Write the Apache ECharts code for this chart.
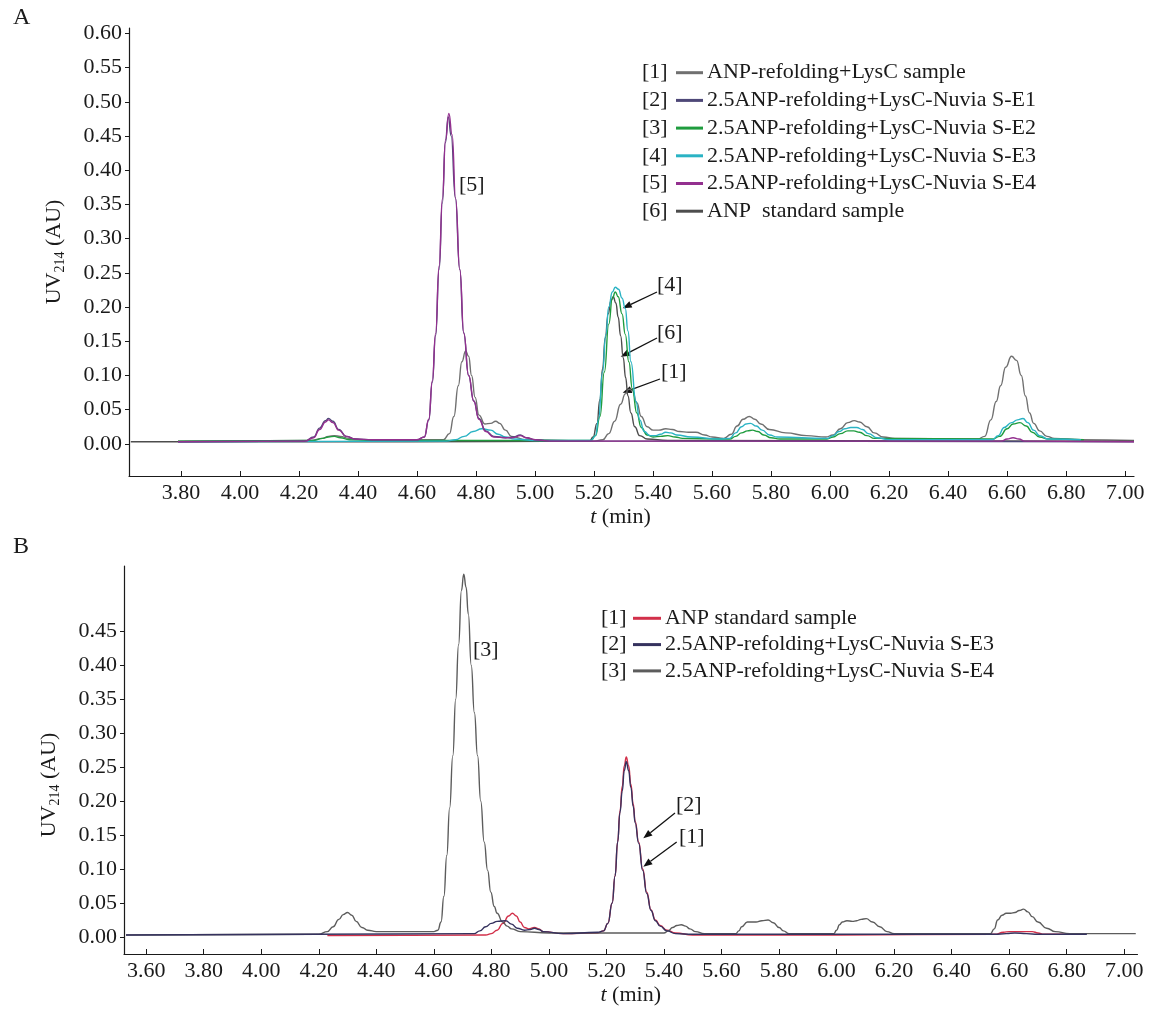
<!DOCTYPE html>
<html>
<head>
<meta charset="utf-8">
<script src="https://cdn.jsdelivr.net/npm/echarts@6/dist/echarts.min.js"></script>
<style>
html, body { margin: 0; padding: 0; background: #fff; }
#main { width: 1149px; height: 1009px; }
</style>
</head>
<body>
<div id="main"></div>
<script>
const font = "'Liberation Serif', 'Times New Roman', serif";

// tick labels
const ticksAx = [3.80, 4.00, 4.20, 4.40, 4.60, 4.80, 5.00, 5.20, 5.40, 5.60, 5.80, 6.00, 6.20, 6.40, 6.60, 6.80, 7.00];
const ticksAy = [0.00, 0.05, 0.10, 0.15, 0.20, 0.25, 0.30, 0.35, 0.40, 0.45, 0.50, 0.55, 0.60];
const ticksBx = [3.60, 3.80, 4.00, 4.20, 4.40, 4.60, 4.80, 5.00, 5.20, 5.40, 5.60, 5.80, 6.00, 6.20, 6.40, 6.60, 6.80, 7.00];
const ticksBy = [0.00, 0.05, 0.10, 0.15, 0.20, 0.25, 0.30, 0.35, 0.40, 0.45];

// panel A legend
const namesA = ['ANP-refolding+LysC sample', '2.5ANP-refolding+LysC-Nuvia S-E1', '2.5ANP-refolding+LysC-Nuvia S-E2',
    '2.5ANP-refolding+LysC-Nuvia S-E3', '2.5ANP-refolding+LysC-Nuvia S-E4', 'ANP  standard sample'];
const colorsA = ['#707070', '#4e4878', '#1f9c3e', '#2ab3c4', '#93308f', '#4d4d4d'];
// panel B legend
const namesB = ['ANP standard sample', '2.5ANP-refolding+LysC-Nuvia S-E3', '2.5ANP-refolding+LysC-Nuvia S-E4'];
const colorsB = ['#d2304a', '#35325e', '#5c5c5c'];

// [t (min), UV (AU)]
const a1 = [[3.79,0.004],[4.24,0.005],[4.28,0.008],[4.30,0.011],[4.32,0.012],[4.34,0.011],[4.37,0.008],[4.42,0.006],
    [4.69,0.006],[4.71,0.015],[4.725,0.04],[4.74,0.085],[4.752,0.12],[4.765,0.136],[4.775,0.128],[4.785,0.1],[4.797,0.068],
    [4.81,0.042],[4.83,0.029],[4.85,0.03],[4.867,0.033],[4.88,0.03],[4.90,0.02],[4.92,0.011],[4.97,0.006],
    [5.20,0.004],[5.23,0.006],[5.25,0.015],[5.27,0.033],[5.29,0.058],[5.306,0.073],[5.318,0.08],[5.33,0.078],[5.345,0.06],
    [5.36,0.04],[5.38,0.025],[5.40,0.02],[5.42,0.02],[5.443,0.022],[5.465,0.021],[5.49,0.018],[5.52,0.017],[5.545,0.017],
    [5.575,0.013],[5.60,0.01],[5.64,0.008],[5.665,0.014],[5.685,0.026],[5.705,0.036],[5.726,0.04],[5.745,0.036],[5.765,0.029],
    [5.794,0.021],[5.85,0.016],[5.92,0.012],[5.986,0.01],[6.01,0.013],[6.035,0.022],[6.06,0.031],[6.082,0.034],[6.10,0.032],
    [6.125,0.025],[6.15,0.016],[6.18,0.01],[6.22,0.008],[6.50,0.007],[6.524,0.011],[6.545,0.035],[6.563,0.062],[6.578,0.085],
    [6.595,0.112],[6.615,0.128],[6.632,0.122],[6.648,0.1],[6.662,0.07],[6.676,0.045],[6.69,0.03],[6.71,0.019],[6.735,0.011],
    [6.76,0.008],[6.85,0.006],[7.03,0.005]];
const a2 = [[3.79,0.003],[4.22,0.004],[4.25,0.01],[4.27,0.023],[4.29,0.034],[4.30,0.037],[4.315,0.033],[4.335,0.021],
    [4.36,0.011],[4.39,0.007],[4.45,0.006],[4.60,0.006],[4.625,0.01],[4.64,0.035],[4.652,0.09],[4.663,0.158],[4.675,0.255],
    [4.686,0.352],[4.696,0.44],[4.706,0.478],[4.716,0.45],[4.73,0.36],[4.745,0.255],[4.758,0.163],[4.775,0.1],[4.792,0.063],
    [4.81,0.037],[4.833,0.019],[4.86,0.011],[4.90,0.009],[4.925,0.01],[4.95,0.013],[4.97,0.009],[5.00,0.006],[5.05,0.004],
    [5.60,0.004],[7.03,0.003]];
const a3 = [[3.79,0.004],[4.25,0.005],[4.28,0.008],[4.30,0.01],[4.32,0.011],[4.34,0.009],[4.37,0.006],[4.45,0.005],
    [5.19,0.005],[5.205,0.012],[5.22,0.04],[5.235,0.105],[5.25,0.175],[5.262,0.212],[5.272,0.222],[5.282,0.215],[5.295,0.19],
    [5.306,0.16],[5.318,0.12],[5.33,0.08],[5.345,0.045],[5.36,0.024],[5.38,0.013],[5.40,0.01],[5.425,0.011],[5.45,0.012],
    [5.475,0.01],[5.50,0.008],[5.66,0.007],[5.68,0.011],[5.70,0.016],[5.72,0.019],[5.737,0.02],[5.755,0.018],[5.775,0.013],
    [5.80,0.009],[5.83,0.007],[5.99,0.007],[6.01,0.01],[6.035,0.015],[6.06,0.019],[6.08,0.019],[6.10,0.017],[6.125,0.012],
    [6.15,0.008],[6.55,0.007],[6.575,0.011],[6.60,0.022],[6.62,0.029],[6.643,0.031],[6.665,0.026],[6.685,0.017],[6.71,0.01],
    [6.74,0.007],[6.86,0.006]];
const a4 = [[3.79,0.003],[4.70,0.004],[4.73,0.006],[4.76,0.011],[4.79,0.018],[4.82,0.022],[4.85,0.02],[4.875,0.014],
    [4.90,0.01],[4.93,0.007],[5.00,0.005],[5.19,0.005],[5.205,0.012],[5.215,0.035],[5.229,0.105],[5.24,0.16],[5.25,0.2],
    [5.262,0.222],[5.272,0.229],[5.283,0.226],[5.295,0.213],[5.306,0.198],[5.315,0.165],[5.325,0.12],[5.342,0.062],
    [5.355,0.035],[5.37,0.018],[5.39,0.012],[5.41,0.012],[5.425,0.014],[5.443,0.017],[5.46,0.016],[5.48,0.013],[5.53,0.01],
    [5.62,0.007],[5.66,0.008],[5.68,0.016],[5.70,0.025],[5.715,0.029],[5.73,0.03],[5.75,0.026],[5.77,0.02],[5.795,0.013],
    [5.82,0.01],[5.99,0.008],[6.01,0.012],[6.03,0.018],[6.05,0.022],[6.07,0.024],[6.09,0.024],[6.11,0.021],[6.13,0.015],
    [6.16,0.009],[6.20,0.006],[6.55,0.006],[6.57,0.012],[6.59,0.024],[6.615,0.031],[6.635,0.035],[6.654,0.037],[6.67,0.031],
    [6.69,0.02],[6.71,0.012],[6.74,0.007],[6.85,0.006]];
const a5 = [[3.79,0.003],[4.22,0.004],[4.25,0.009],[4.27,0.021],[4.29,0.032],[4.30,0.035],[4.315,0.031],[4.335,0.02],
    [4.36,0.011],[4.39,0.007],[4.45,0.006],[4.60,0.006],[4.625,0.01],[4.64,0.036],[4.652,0.092],[4.663,0.161],[4.675,0.26],
    [4.686,0.358],[4.697,0.445],[4.708,0.483],[4.719,0.452],[4.731,0.358],[4.745,0.255],[4.759,0.161],[4.775,0.1],
    [4.793,0.062],[4.81,0.036],[4.833,0.018],[4.86,0.01],[4.90,0.009],[4.925,0.009],[4.95,0.012],[4.97,0.009],[5.00,0.006],
    [5.05,0.004],[6.58,0.004],[6.60,0.007],[6.62,0.009],[6.64,0.007],[6.66,0.004],[7.03,0.003]];
const a6 = [[3.63,0.003],[4.57,0.003],[5.185,0.004],[5.197,0.01],[5.21,0.03],[5.22,0.065],[5.229,0.11],[5.238,0.155],
    [5.248,0.19],[5.257,0.209],[5.265,0.215],[5.274,0.206],[5.282,0.185],[5.29,0.158],[5.299,0.126],[5.307,0.097],
    [5.315,0.07],[5.325,0.045],[5.338,0.025],[5.355,0.012],[5.38,0.007],[5.45,0.005],[7.03,0.004]];

const b1 = [[4.23,0.002],[4.78,0.003],[4.80,0.005],[4.82,0.01],[4.84,0.02],[4.86,0.031],[4.873,0.035],[4.887,0.031],
    [4.90,0.022],[4.915,0.014],[4.93,0.012],[4.95,0.014],[4.965,0.012],[4.98,0.008],[5.05,0.005],[5.17,0.006],[5.19,0.009],
    [5.205,0.02],[5.22,0.05],[5.23,0.09],[5.239,0.14],[5.247,0.185],[5.255,0.222],[5.262,0.252],[5.269,0.265],
    [5.277,0.252],[5.285,0.225],[5.293,0.196],[5.30,0.17],[5.312,0.14],[5.326,0.1],[5.34,0.066],[5.355,0.04],[5.37,0.025],
    [5.387,0.017],[5.41,0.01],[5.44,0.006],[5.50,0.003],[6.00,0.003],[6.55,0.004],[6.58,0.007],[6.60,0.008],[6.68,0.008],
    [6.70,0.006],[6.72,0.004],[6.85,0.004]];
const b2 = [[3.53,0.003],[4.17,0.004],[4.74,0.005],[4.76,0.009],[4.78,0.015],[4.80,0.02],[4.82,0.023],[4.85,0.024],
    [4.87,0.019],[4.89,0.013],[4.915,0.01],[4.935,0.011],[4.95,0.013],[4.965,0.011],[4.98,0.008],[5.05,0.005],[5.17,0.007],
    [5.19,0.009],[5.205,0.02],[5.22,0.05],[5.23,0.09],[5.239,0.14],[5.247,0.183],[5.255,0.215],[5.262,0.245],[5.269,0.258],
    [5.277,0.245],[5.285,0.22],[5.293,0.192],[5.30,0.168],[5.312,0.138],[5.326,0.098],[5.34,0.064],[5.355,0.039],
    [5.37,0.024],[5.387,0.016],[5.41,0.009],[5.44,0.005],[5.50,0.004],[6.55,0.004],[6.59,0.005],[6.62,0.006],[6.66,0.005],
    [6.70,0.004],[6.87,0.004]];
const b3 = [[3.53,0.003],[4.20,0.004],[4.23,0.008],[4.25,0.015],[4.27,0.026],[4.285,0.033],[4.30,0.036],[4.315,0.032],
    [4.33,0.023],[4.35,0.014],[4.37,0.01],[4.40,0.008],[4.45,0.008],[4.60,0.008],[4.614,0.01],[4.625,0.022],[4.635,0.06],
    [4.645,0.12],[4.655,0.19],[4.666,0.267],[4.676,0.35],[4.686,0.43],[4.696,0.51],[4.704,0.534],[4.712,0.515],[4.72,0.475],
    [4.73,0.40],[4.741,0.33],[4.752,0.267],[4.763,0.2],[4.775,0.14],[4.787,0.098],[4.798,0.066],[4.81,0.045],[4.82,0.035],
    [4.839,0.022],[4.855,0.016],[4.87,0.012],[4.90,0.008],[5.00,0.006],[5.40,0.006],[5.415,0.009],[5.43,0.014],[5.445,0.017],
    [5.46,0.018],[5.475,0.016],[5.49,0.012],[5.51,0.008],[5.54,0.005],[5.65,0.005],[5.66,0.009],[5.67,0.015],[5.69,0.022],
    [5.705,0.022],[5.72,0.022],[5.74,0.024],[5.762,0.025],[5.78,0.021],[5.80,0.014],[5.815,0.009],[5.835,0.005],[5.99,0.005],
    [6.0,0.01],[6.01,0.018],[6.02,0.022],[6.036,0.024],[6.055,0.023],[6.07,0.024],[6.085,0.026],[6.103,0.027],[6.125,0.022],
    [6.15,0.015],[6.175,0.008],[6.20,0.005],[6.535,0.005],[6.548,0.012],[6.56,0.025],[6.575,0.032],[6.59,0.035],[6.605,0.035],
    [6.62,0.036],[6.635,0.039],[6.65,0.041],[6.665,0.037],[6.68,0.03],[6.70,0.022],[6.73,0.013],[6.76,0.008],[6.81,0.005],
    [7.04,0.005]];

const seriesA = [a1, a2, a3, a4, a5, a6];
const seriesB = [b1, b2, b3];
const drawOrderA = [0, 5, 2, 3, 1, 4];
const drawOrderB = [0, 2, 1];

function lineSeries(id, data, color, idx, z) {
    return {
        id: id, name: id, type: 'line', data: data,
        xAxisIndex: idx, yAxisIndex: idx,
        showSymbol: false, smooth: 0.5, smoothMonotone: 'x',
        color: color, lineStyle: { width: 1.4, color: color },
        z: z, animation: false, silent: true
    };
}

function xAx(idx, min, max, ticks, nameShift) {
    return {
        gridIndex: idx, type: 'value', min: min, max: max,
        axisLine: { onZero: false, lineStyle: { color: '#1a1a1a', width: 1.2 } },
        axisTick: { inside: true, length: 5, customValues: ticks, lineStyle: { color: '#1a1a1a' } },
        axisLabel: { customValues: ticks, margin: 6, color: '#1a1a1a', fontFamily: font, fontSize: 22,
            formatter: v => v.toFixed(2) },
        splitLine: { show: false },
        name: '{it|t} (min)', nameLocation: 'middle', nameGap: 30,
        nameTextStyle: { color: '#1a1a1a', fontFamily: font, fontSize: 22, padding: nameShift,
            rich: { it: { fontStyle: 'italic', fontFamily: font, fontSize: 22 } } }
    };
}

function yAx(idx, min, max, ticks, pad) {
    return {
        gridIndex: idx, type: 'value', min: min, max: max,
        axisLine: { show: true, onZero: false, lineStyle: { color: '#1a1a1a', width: 1.2 } },
        axisTick: { show: true, length: 4, customValues: ticks, lineStyle: { color: '#1a1a1a' } },
        axisLabel: { customValues: ticks, margin: 7, color: '#1a1a1a', fontFamily: font, fontSize: 22,
            formatter: v => v.toFixed(2) },
        splitLine: { show: false },
        name: 'UV{sub|214} (AU)', nameLocation: 'middle', nameGap: 62,
        nameTextStyle: { color: '#1a1a1a', fontFamily: font, fontSize: 22, lineHeight: 26, padding: pad,
            rich: { sub: { fontFamily: font, fontSize: 14, lineHeight: 14, verticalAlign: 'bottom' } } }
    };
}

function arrow(x1, y1, x2, y2) {
    const ang = Math.atan2(y2 - y1, x2 - x1);
    const L = 9, W = 3.5;
    const bx = x2 - L * Math.cos(ang), by = y2 - L * Math.sin(ang);
    const px = -Math.sin(ang) * W, py = Math.cos(ang) * W;
    return [
        { type: 'line', shape: { x1: x1, y1: y1, x2: bx, y2: by }, style: { stroke: '#111', lineWidth: 1.3 } },
        { type: 'polygon', shape: { points: [[x2, y2], [bx + px, by + py], [bx - px, by - py]] }, style: { fill: '#111' } }
    ];
}

function txt(x, y, s, size, align) {
    return { type: 'text', x: x, y: y,
        style: { text: s, font: (size || 22) + 'px ' + font, fill: '#1a1a1a', align: align || 'left', verticalAlign: 'middle' } };
}

const rowsA = [72.7, 100.4, 128.1, 155.8, 183.5, 211.2];
const rowsB = [618.3, 644.6, 670.9];

let graphic = [txt(13, 18, 'A', 24), txt(13, 547, 'B', 24)];
rowsA.forEach((y, i) => graphic.push(txt(642, y, '[' + (i + 1) + ']')));
rowsB.forEach((y, i) => graphic.push(txt(601, y, '[' + (i + 1) + ']')));
graphic.push(txt(459, 185, '[5]'), txt(657, 285, '[4]'), txt(657, 333, '[6]'), txt(661, 372, '[1]'));
graphic.push(txt(473, 650, '[3]'), txt(676, 805, '[2]'), txt(679, 837, '[1]'));
graphic = graphic.concat(arrow(657, 292, 622.7, 308.3), arrow(657, 338, 620.7, 356.7), arrow(660, 379, 622.7, 392.7),
    arrow(675, 813, 643.3, 838.3), arrow(676.7, 842, 643.3, 866.7));

const series = [];
drawOrderA.forEach((i, k) => series.push(lineSeries('A' + (i + 1), seriesA[i], colorsA[i], 0, 10 + k)));
drawOrderB.forEach((i, k) => series.push(lineSeries('B' + (i + 1), seriesB[i], colorsB[i], 1, 10 + k)));

const legendText = {};
namesA.forEach((n, i) => legendText['A' + (i + 1)] = n);
namesB.forEach((n, i) => legendText['B' + (i + 1)] = n);

function legendBox(ids, left, top, gap, w) {
    return {
        data: ids, orient: 'vertical', left: left, top: top, itemGap: gap, padding: 0,
        itemWidth: w, itemHeight: 3, icon: 'rect', selectedMode: false, itemStyle: { borderWidth: 0 },
        textStyle: { fontFamily: font, fontSize: 22, lineHeight: 22, color: '#1a1a1a', padding: [0, 0, 0, -1] },
        formatter: name => legendText[name]
    };
}

const chart = echarts.init(document.getElementById('main'), null, { renderer: 'canvas' });
chart.setOption({
    backgroundColor: '#fff',
    animation: false,
    grid: [
        { left: 129, right: 15, top: 28, height: 448 },
        { left: 124, right: 11.5, top: 566, height: 388 }
    ],
    xAxis: [xAx(0, 3.624, 7.03, ticksAx, [0, 22, 0, 0]), xAx(1, 3.523, 7.046, ticksBx, [0, 0, 0, 0])],
    yAxis: [yAx(0, -0.047, 0.608, ticksAy, [0, 0, 0, 0]), yAx(1, -0.025, 0.546, ticksBy, [0, 50, 0, 0])],
    legend: [
        legendBox(['A1', 'A2', 'A3', 'A4', 'A5', 'A6'], 676, 61.7, 5.7, 27),
        legendBox(['B1', 'B2', 'B3'], 633, 607.3, 4.3, 28)
    ],
    graphic: graphic,
    series: series
});
</script>
</body>
</html>
